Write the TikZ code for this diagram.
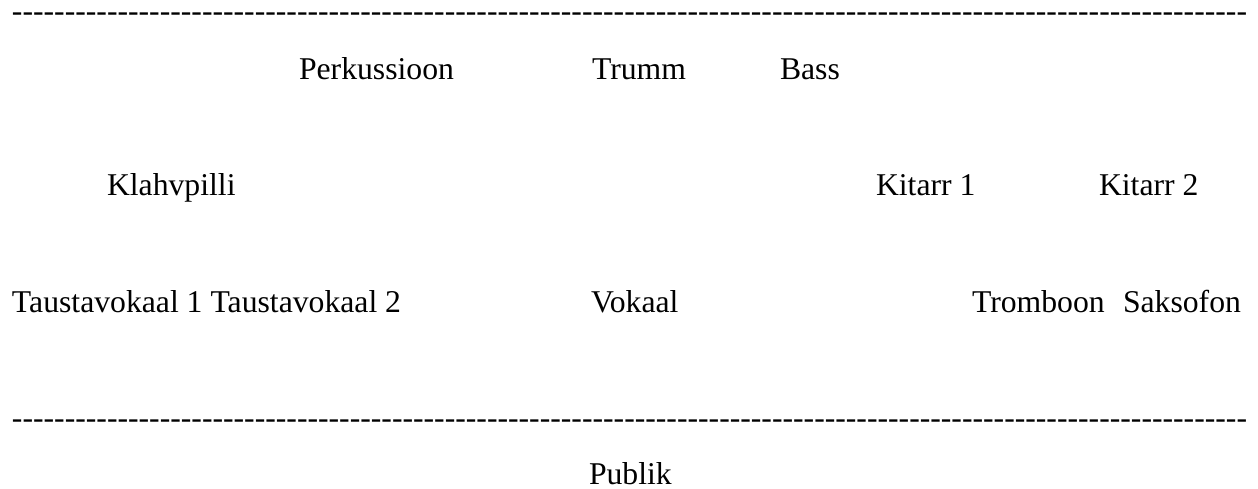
\documentclass[tikz,border=0pt]{standalone}
\usepackage{fontspec}
\setmainfont{Liberation Serif}
\newcommand{\hyphenrow}{\foreach \i in {1,...,117}{-{}}}
\begin{document}
\begin{tikzpicture}[x=1pt,y=-1pt,
  lbl/.style={anchor=base west,inner sep=0pt,outer sep=0pt,font=\fontsize{31.7}{36}\selectfont},
  dashrow/.style={lbl,text height=12pt,text depth=0pt}]
\useasboundingbox (0,0) rectangle (1258,489);
\node[dashrow] (topline) at (12,22) {\hyphenrow};
\node[dashrow] (botline) at (12,428) {\hyphenrow};
\node[lbl] (perk) at (299,80) {Perkussioon};
\node[lbl] (trumm) at (592,80) {Trumm};
\node[lbl] (bass) at (780,80) {Bass};
\node[lbl] (klahv) at (107,196) {Klahvpilli};
\node[lbl] (kit1) at (876,196) {Kitarr 1};
\node[lbl] (kit2) at (1099,196) {Kitarr 2};
\node[lbl] (taust) at (12,312) {Taustavokaal 1 Taustavokaal 2};
\node[lbl] (vokaal) at (591,312) {Vokaal};
\node[lbl] (tromb) at (972,312) {Tromboon};
\node[lbl] (saks) at (1123,312) {Saksofon};
\node[lbl] (publik) at (589,484) {Publik};
\end{tikzpicture}
\end{document}
